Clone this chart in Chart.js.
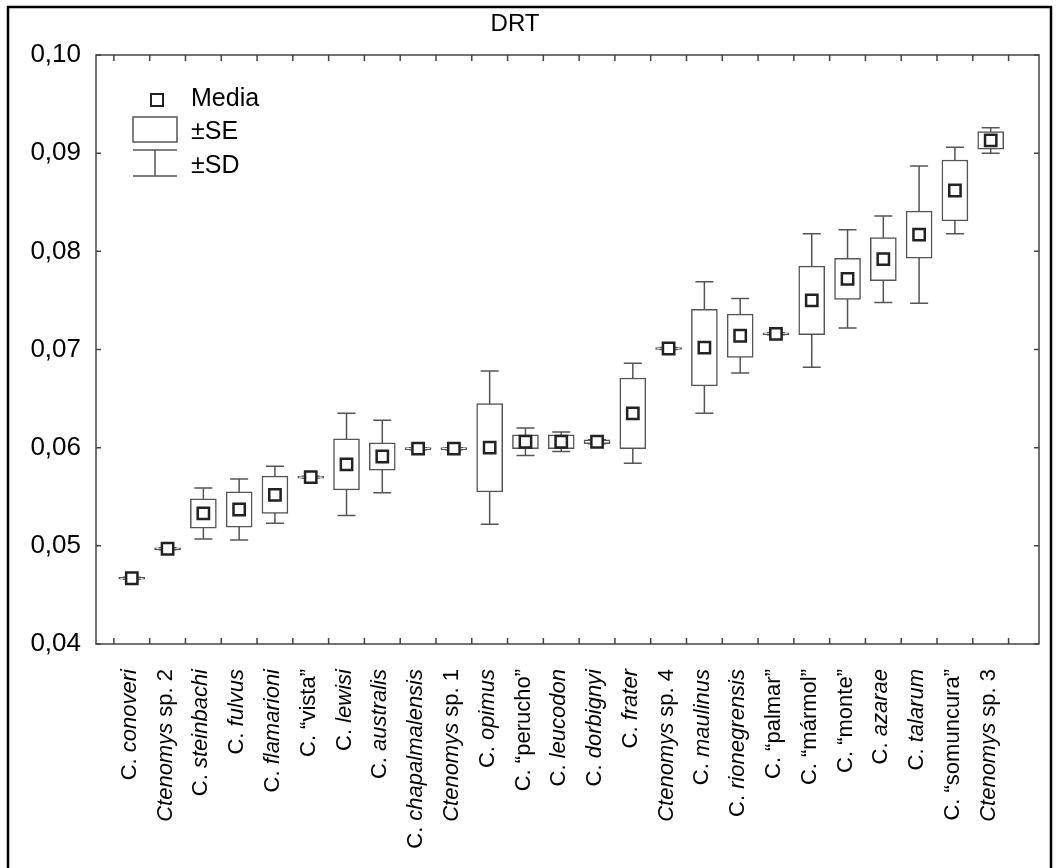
<!DOCTYPE html>
<html>
<head>
<meta charset="utf-8">
<script src="https://cdn.jsdelivr.net/npm/chart.js@4/dist/chart.umd.min.js"></script>
<style>
  body { margin: 0; background: #fff; overflow: hidden; }
</style>
</head>
<body>
<canvas id="drtChart" width="1059" height="868"></canvas>
<script>
// species, in plot order
var categories = [
  'C. conoveri', 'Ctenomys sp. 2', 'C. steinbachi', 'C. fulvus', 'C. flamarioni',
  'C. “vista”', 'C. lewisi', 'C. australis', 'C. chapalmalensis', 'Ctenomys sp. 1',
  'C. opimus', 'C. “perucho”', 'C. leucodon', 'C. dorbignyi', 'C. frater',
  'Ctenomys sp. 4', 'C. maulinus', 'C. rionegrensis', 'C. “palmar”', 'C. “mármol”',
  'C. “monte”', 'C. azarae', 'C. talarum', 'C. “somuncura”', 'Ctenomys sp. 3'
];
var means = [
  0.0467, 0.0497, 0.0533, 0.0537, 0.0552,
  0.0570, 0.0583, 0.0591, 0.0599, 0.0599,
  0.0600, 0.0606, 0.0606, 0.0606, 0.0635,
  0.0701, 0.0702, 0.0714, 0.0716, 0.0750,
  0.0772, 0.0792, 0.0817, 0.0862, 0.0913
];
var se = [
  0.0001, 0.0001, 0.0015, 0.0018, 0.0019,
  0.0001, 0.0026, 0.0014, 0.0001, 0.0001,
  0.0045, 0.0007, 0.0007, 0.0002, 0.0036,
  0.0001, 0.0039, 0.0022, 0.0001, 0.0035,
  0.0021, 0.0022, 0.0024, 0.0031, 0.0009
];
var sd = [
  0.0001, 0.0001, 0.0026, 0.0031, 0.0029,
  0.0001, 0.0052, 0.0037, 0.0001, 0.0001,
  0.0078, 0.0014, 0.0010, 0.0002, 0.0051,
  0.0001, 0.0067, 0.0038, 0.0001, 0.0068,
  0.0050, 0.0044, 0.0070, 0.0044, 0.0013
];
var yTicks = [0.04, 0.05, 0.06, 0.07, 0.08, 0.09, 0.10];

var FONT = '"Liberation Sans", Arial, Helvetica, sans-serif';
var BOX_COLOR = '#555';

// which part of a name is set in italics
function labelParts(name) {
  if (name.indexOf('Ctenomys ') === 0) return [['Ctenomys', true], [name.slice(8), false]];
  if (name.indexOf('C. “') === 0) return [[name, false]];
  return [['C. ', false], [name.slice(3), true]];
}

// outer frame, title, plot box and inside ticks
var framePlugin = {
  id: 'frame',
  beforeDraw: function (chart) {
    var ctx = chart.ctx;
    ctx.save();
    ctx.fillStyle = '#fff';
    ctx.fillRect(0, 0, chart.width, chart.height);
    ctx.strokeStyle = '#000';
    ctx.lineWidth = 2.5;
    ctx.beginPath();
    ctx.moveTo(8, 900);
    ctx.lineTo(8, 7);
    ctx.lineTo(1051, 7);
    ctx.lineTo(1051, 900);
    ctx.stroke();

    ctx.fillStyle = '#000';
    ctx.font = '24px ' + FONT;
    ctx.textAlign = 'center';
    ctx.textBaseline = 'middle';
    ctx.fillText('DRT', 515, 24);
    ctx.restore();
  },
  afterDatasetsDraw: function (chart) {
    var ctx = chart.ctx;
    var a = chart.chartArea;
    var xs = chart.scales.x;
    var ys = chart.scales.y;
    ctx.save();
    ctx.strokeStyle = '#444';
    ctx.lineWidth = 1.5;
    ctx.strokeRect(a.left, a.top, a.right - a.left, a.bottom - a.top);
    ctx.beginPath();
    yTicks.forEach(function (v) {
      var y = ys.getPixelForValue(v);
      ctx.moveTo(a.left, y); ctx.lineTo(a.left + 5, y);
      ctx.moveTo(a.right, y); ctx.lineTo(a.right - 5, y);
    });
    for (var i = -0.5; i < categories.length; i++) {
      var x = xs.getPixelForValue(i);
      ctx.moveTo(x, a.bottom); ctx.lineTo(x, a.bottom - 6);
      ctx.moveTo(x, a.top); ctx.lineTo(x, a.top + 6);
    }
    ctx.stroke();
    ctx.restore();
  }
};

// ±SD whiskers, drawn under the SE boxes
var whiskerPlugin = {
  id: 'whiskers',
  beforeDatasetsDraw: function (chart) {
    var ctx = chart.ctx;
    var xs = chart.scales.x;
    var ys = chart.scales.y;
    ctx.save();
    ctx.strokeStyle = BOX_COLOR;
    ctx.lineWidth = 1.5;
    ctx.beginPath();
    means.forEach(function (m, i) {
      var x = xs.getPixelForValue(i);
      var top = ys.getPixelForValue(m + sd[i]);
      var bot = ys.getPixelForValue(m - sd[i]);
      ctx.moveTo(x, top); ctx.lineTo(x, bot);
      ctx.moveTo(x - 9, top); ctx.lineTo(x + 9, top);
      ctx.moveTo(x - 9, bot); ctx.lineTo(x + 9, bot);
    });
    ctx.stroke();
    ctx.restore();
  }
};

// legend box in the upper left
var legendPlugin = {
  id: 'boxLegend',
  afterDraw: function (chart) {
    var ctx = chart.ctx;
    ctx.save();
    ctx.strokeStyle = '#222';
    ctx.lineWidth = 2;
    ctx.strokeRect(151, 94, 12, 12);
    ctx.strokeStyle = BOX_COLOR;
    ctx.lineWidth = 1.5;
    ctx.strokeRect(133, 117, 44, 25);
    ctx.beginPath();
    ctx.moveTo(133, 150); ctx.lineTo(177, 150);
    ctx.moveTo(133, 176); ctx.lineTo(177, 176);
    ctx.moveTo(155, 150); ctx.lineTo(155, 176);
    ctx.stroke();
    ctx.fillStyle = '#000';
    ctx.font = '25px ' + FONT;
    ctx.textAlign = 'left';
    ctx.textBaseline = 'middle';
    ctx.fillText('Media', 191, 99);
    ctx.fillText('±SE', 191, 132);
    ctx.fillText('±SD', 191, 166);
    ctx.restore();
  }
};

// rotated category names with italic species names
var labelPlugin = {
  id: 'speciesLabels',
  afterDraw: function (chart) {
    var ctx = chart.ctx;
    var xs = chart.scales.x;
    var top = chart.chartArea.bottom + 25;
    ctx.save();
    ctx.fillStyle = '#000';
    ctx.textBaseline = 'middle';
    ctx.textAlign = 'left';
    categories.forEach(function (name, i) {
      var parts = labelParts(name);
      var total = 0;
      parts.forEach(function (p) {
        ctx.font = (p[1] ? 'italic ' : '') + '22px ' + FONT;
        p.push(ctx.measureText(p[0]).width);
        total += p[2];
      });
      ctx.save();
      ctx.translate(xs.getPixelForValue(i) - 2, top);
      ctx.rotate(-Math.PI / 2);
      var pos = -total;
      parts.forEach(function (p) {
        ctx.font = (p[1] ? 'italic ' : '') + '22px ' + FONT;
        ctx.fillText(p[0], pos, 0);
        pos += p[2];
      });
      ctx.restore();
    });
    ctx.restore();
  }
};

var ctx = document.getElementById('drtChart').getContext('2d');
new Chart(ctx, {
  type: 'bar',
  data: {
    datasets: [{
      type: 'scatter',
      label: 'Media',
      data: means.map(function (m, i) { return { x: i, y: m }; }),
      pointStyle: 'rect',
      pointRadius: 8,
      pointHoverRadius: 8,
      borderWidth: 2.5,
      borderColor: '#222',
      backgroundColor: '#fff',
      order: 0
    }, {
      type: 'bar',
      label: '±SE',
      data: means.map(function (m, i) { return { x: i, y: [m - se[i], m + se[i]] }; }),
      barThickness: 26,
      grouped: false,
      borderWidth: 1.5,
      borderColor: BOX_COLOR,
      backgroundColor: '#fff',
      borderSkipped: false,
      order: 1
    }]
  },
  options: {
    responsive: false,
    animation: false,
    layout: { padding: { left: 0, top: 55, right: 20, bottom: 224 } },
    plugins: {
      legend: { display: false },
      tooltip: { enabled: false },
      title: { display: false }
    },
    scales: {
      x: {
        type: 'linear',
        min: -1,
        max: 25.35,
        offset: false,
        bounds: 'ticks',
        display: false
      },
      y: {
        min: 0.04,
        max: 0.10,
        afterFit: function (scale) { scale.width = 96; },
        afterBuildTicks: function (scale) {
          scale.ticks = yTicks.map(function (v) { return { value: v }; });
        },
        grid: { display: false, drawTicks: false },
        border: { display: false },
        ticks: {
          padding: 15,
          color: '#000',
          font: { family: FONT, size: 26 },
          callback: function (v) { return v.toFixed(2).replace('.', ','); }
        }
      }
    }
  },
  plugins: [framePlugin, whiskerPlugin, legendPlugin, labelPlugin]
});
</script>
</body>
</html>
